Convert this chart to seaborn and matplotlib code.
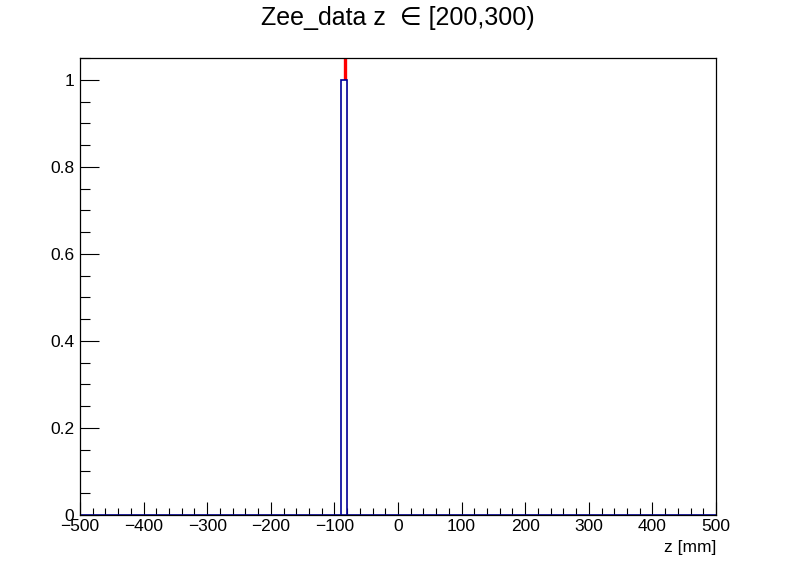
import matplotlib
matplotlib.use("Agg")
import matplotlib.pyplot as plt
from matplotlib.ticker import MultipleLocator
import seaborn as sns
import numpy as np

# ─── Dane ────────────────────────────────────────────────────────────
z_values = [-85.0]          # jedno zdarzenie w przedziale z
z_mean = -84.0              # czerwona linia (średnia)
bin_edges = np.arange(-500, 501, 10)
title = "Zee_data z  \u2208 [200,300)"
xlabel = "z [mm]"

# ─── Styl ────────────────────────────────────────────────────────────
sns.set_theme(style="white")
plt.rcParams.update({
    'font.family': ['Liberation Sans', 'DejaVu Sans'],
    'axes.unicode_minus': True,
    'text.color': 'black',
    'axes.labelcolor': 'black',
    'xtick.color': 'black',
    'ytick.color': 'black',
})

fig = plt.figure(figsize=(7.96, 5.72), dpi=100)
ax = fig.add_axes([80 / 796, 57 / 572, 636 / 796, 457 / 572])

ax.vlines(z_mean, 0, 1.05, color='#ff0000', linewidth=2.4, zorder=1)
sns.histplot(x=z_values, bins=bin_edges, ax=ax, stat='count',
             color='white', edgecolor='#000099', linewidth=1.2,
             alpha=1.0, zorder=2)

ax.set_xlim(-500, 500)
ax.set_ylim(0, 1.05)
ax.xaxis.set_major_locator(MultipleLocator(100))
ax.xaxis.set_minor_locator(MultipleLocator(20))
ax.yaxis.set_major_locator(MultipleLocator(0.2))
ax.yaxis.set_minor_locator(MultipleLocator(0.05))
ax.yaxis.set_major_formatter(plt.FuncFormatter(lambda v, p: f"{v:g}"))

ax.tick_params(axis='x', which='major', direction='in', length=9.5, width=0.8,
               labelsize=12.5, pad=3)
ax.tick_params(axis='x', which='minor', direction='in', length=4.7, width=0.8)
ax.tick_params(axis='y', which='major', direction='in', length=13.5, width=0.8,
               labelsize=12.5, pad=4)
ax.tick_params(axis='y', which='minor', direction='in', length=7, width=0.8)
ax.tick_params(bottom=True, left=True, top=False, right=False, which='both')

for s in ax.spines.values():
    s.set_color('black')
    s.set_linewidth(0.9)

ax.set_ylabel("")
ax.set_xlabel(xlabel, loc='right', fontsize=12.5, labelpad=4)
fig.suptitle(title, fontsize=18, y=0.99)

fig.savefig("out.png", dpi=100)
